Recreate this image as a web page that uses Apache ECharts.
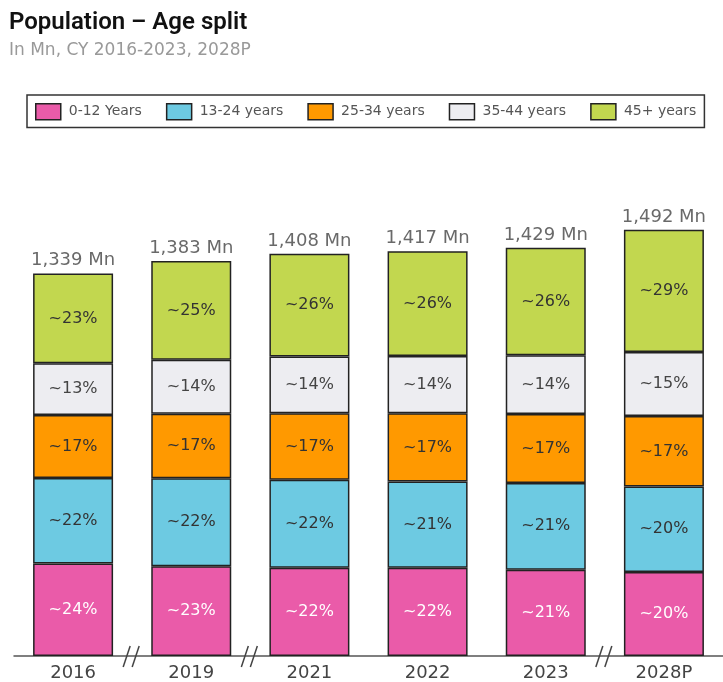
<!DOCTYPE html>
<html>
<head>
<meta charset="utf-8">
<script src="https://cdn.jsdelivr.net/npm/echarts@6/dist/echarts.min.js"></script>
<style>
html,body{margin:0;padding:0;background:#fff;}
#chart{width:723px;height:682px;}
</style>
</head>
<body>
<div id="chart"></div>
<script>
// ---- data ----
const categories = ['2016', '2019', '2021', '2022', '2023', '2028P'];
const totals = [1339, 1383, 1408, 1417, 1429, 1492];
const seriesNames = ['0-12 Years', '13-24 years', '25-34 years', '35-44 years', '45+ years'];
// segment sizes in Mn
const pop0_12  = [324, 314, 309, 309, 302, 294];
const pop13_24 = [299, 308, 308, 302, 304, 299];
const pop25_34 = [221, 226, 233, 239, 241, 247];
const pop35_44 = [181, 189, 199, 200, 206, 224];
const pop45p   = [314, 346, 359, 367, 376, 428];
// share labels (%)
const pct0_12  = [24, 23, 22, 22, 21, 20];
const pct13_24 = [22, 22, 22, 21, 21, 20];
const pct25_34 = [17, 17, 17, 17, 17, 17];
const pct35_44 = [13, 14, 14, 14, 14, 15];
const pct45p   = [23, 25, 26, 26, 26, 29];
// axis break positions (after category index)
const breaksAfter = [0, 1, 4];

const colors = ['#EA5BA9', '#6DCAE2', '#FF9900', '#EDEDF1', '#C2D74F'];
const values = [pop0_12, pop13_24, pop25_34, pop35_44, pop45p];
const pcts = [pct0_12, pct13_24, pct25_34, pct35_44, pct45p];
const labelColors = ['#ffffff', '#333333', '#333333', '#444444', '#333333'];
const FONT = 'DejaVu Sans';

const chart = echarts.init(document.getElementById('chart'), null, {renderer: 'canvas'});

const barSeries = seriesNames.map((name, i) => ({
  name: name,
  type: 'bar',
  stack: 'pop',
  barWidth: 80,
  data: values[i],
  itemStyle: {color: colors[i], borderColor: '#222', borderWidth: 1.5},
  label: {
    show: true,
    position: 'inside',
    fontFamily: FONT,
    fontSize: 16,
    color: labelColors[i],
    formatter: p => '~' + pcts[i][p.dataIndex] + '%'
  },
  emphasis: {disabled: true}
}));

const option = {
  animation: false,
  backgroundColor: '#fff',
  title: {
    text: 'Population \u2013 Age split',
    subtext: 'In Mn, CY 2016-2023, 2028P',
    left: 9,
    top: 11,
    padding: 0,
    itemGap: 7,
    textStyle: {fontFamily: 'Roboto', fontWeight: 600, fontSize: 24, color: '#111'},
    subtextStyle: {fontFamily: FONT, fontSize: 17, color: '#999'}
  },
  legend: {
    data: seriesNames,
    left: 27,
    top: 95,
    padding: [8, 8, 7, 8],
    borderColor: '#333',
    borderWidth: 1.5,
    borderRadius: 0,
    itemWidth: 25,
    itemHeight: 16,
    itemGap: 24,
    icon: 'rect',
    itemStyle: {borderColor: '#222', borderWidth: 1.5},
    textStyle: {fontFamily: FONT, fontSize: 14, color: '#555', padding: [0, 0, 0, 3]},
    selectedMode: false
  },
  grid: {left: 14, width: 720, top: 199, bottom: 25, containLabel: false},
  xAxis: {
    type: 'category',
    data: categories,
    axisLine: {lineStyle: {color: '#555', width: 1.5}},
    axisTick: {show: false},
    axisLabel: {fontFamily: FONT, fontSize: 18, color: '#444', margin: 8}
  },
  yAxis: {
    type: 'value',
    min: 0,
    max: 1600,
    show: false,
    splitLine: {show: false}
  },
  series: barSeries.concat([{
    name: 'Total',
    type: 'scatter',
    data: totals,
    symbolSize: 0,
    label: {
      show: true,
      position: 'top',
      distance: 4,
      fontFamily: FONT,
      fontSize: 18,
      color: '#444',
      formatter: p => totals[p.dataIndex].toLocaleString('en-US') + ' Mn'
    },
    emphasis: {disabled: true},
    silent: true
  }])
};

chart.setOption(option);

// axis break marks "//" positioned through the library's scales
const x0 = chart.convertToPixel({xAxisIndex: 0}, categories[0]);
const x1 = chart.convertToPixel({xAxisIndex: 0}, categories[1]);
const band = x1 - x0;
const yBase = chart.convertToPixel({yAxisIndex: 0}, 0);
const elements = [];
breaksAfter.forEach(i => {
  const cx = chart.convertToPixel({xAxisIndex: 0}, categories[i]) + band / 2;
  [-5, 4].forEach(off => {
    elements.push({
      type: 'line',
      shape: {x1: cx + off - 4, y1: yBase + 11, x2: cx + off + 3, y2: yBase - 10},
      style: {stroke: '#444', lineWidth: 1.5},
      z: 10
    });
  });
});
chart.setOption({graphic: elements});
</script>
</body>
</html>
